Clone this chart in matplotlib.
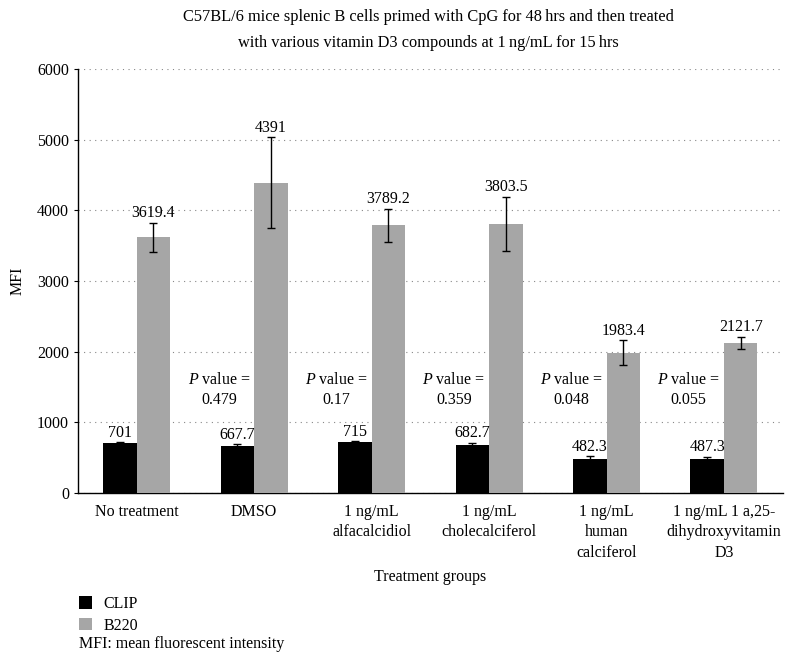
import numpy as np
import matplotlib.pyplot as plt
from matplotlib.patches import Patch

plt.rcParams["font.family"] = ["Liberation Serif", "DejaVu Serif"]
plt.rcParams["mathtext.fontset"] = "custom"
plt.rcParams["mathtext.rm"] = "Liberation Serif"
plt.rcParams["mathtext.it"] = "Liberation Serif:italic"

groups = ["No treatment", "DMSO", "1 ng/mL\nalfacalcidiol", "1 ng/mL\ncholecalciferol",
          "1 ng/mL\nhuman\ncalciferol", "1 ng/mL 1 a,25-\ndihydroxyvitamin\nD3"]
clip_vals = [701, 667.7, 715, 682.7, 482.3, 487.3]
clip_err = [15, 25, 20, 30, 35, 25]
b220_vals = [3619.4, 4391, 3789.2, 3803.5, 1983.4, 2121.7]
b220_err = [205, 640, 235, 385, 175, 90]
clip_labels = ["701", "667.7", "715", "682.7", "482.3", "487.3"]
b220_labels = ["3619.4", "4391", "3789.2", "3803.5", "1983.4", "2121.7"]
p_values = ["0.479", "0.17", "0.359", "0.048", "0.055"]

fig = plt.figure(figsize=(7.93, 6.63), dpi=100)
ax = fig.add_axes([0.0984, 0.2564, 0.8886, 0.6396])

x = np.arange(len(groups))
w = 0.285
black = "#000000"
gray = "#a6a6a6"

ax.bar(x - w / 2, clip_vals, w, color=black, yerr=clip_err, capsize=3,
       error_kw=dict(elinewidth=1, capthick=1, ecolor="black"), zorder=3)
ax.bar(x + w / 2, b220_vals, w, color=gray, yerr=b220_err, capsize=3,
       error_kw=dict(elinewidth=1, capthick=1, ecolor="black"), zorder=3)

for i in range(len(groups)):
    ax.text(x[i] - w / 2, clip_vals[i] + clip_err[i] + 20, clip_labels[i],
            ha="center", va="bottom", fontsize=11.5)
    ax.text(x[i] + w / 2, b220_vals[i] + b220_err[i] + 25, b220_labels[i],
            ha="center", va="bottom", fontsize=11.5)

for i, p in enumerate(p_values):
    ax.text(x[i + 1] - 0.3, 1460, "$P$ value =\n" + p, ha="center", va="center",
            fontsize=11.5, linespacing=1.3)

ax.set_xlim(-0.5, len(groups) - 0.5)
ax.set_ylim(0, 6000)
ax.set_yticks(range(0, 6001, 1000))
ax.set_xticks(x)
ax.set_xticklabels(groups, fontsize=11.5, linespacing=1.35, va="top")
ax.tick_params(axis="x", length=0, pad=8)
ax.tick_params(axis="y", length=3, labelsize=11.5, direction="out")
ax.yaxis.grid(True, linestyle=(0, (1, 4)), color="#888888", linewidth=0.8, zorder=0)
ax.set_axisbelow(True)
for s in ["top", "right"]:
    ax.spines[s].set_visible(False)
ax.spines["left"].set_linewidth(1)
ax.spines["bottom"].set_linewidth(1)

ax.set_ylabel("MFI", fontsize=11.5, labelpad=8)
fig.text(0.542, 0.129, "Treatment groups", ha="center", va="center", fontsize=11.5)

fig.text(0.54, 0.974, "C57BL/6 mice splenic B cells primed with CpG for 48\u2009hrs and then treated",
         ha="center", va="center", fontsize=11.8)
fig.text(0.54, 0.935, "with various vitamin D3 compounds at 1\u2009ng/mL for 15\u2009hrs",
         ha="center", va="center", fontsize=11.8)

handles = [Patch(facecolor=black, label="CLIP"), Patch(facecolor=gray, label="B220")]
fig.legend(handles=handles, loc="upper left", bbox_to_anchor=(0.1, 0.101), frameon=False,
           fontsize=11.5, handlelength=0.8, handleheight=0.8, handletextpad=0.7,
           labelspacing=0.35, borderaxespad=0, borderpad=0)
fig.text(0.1, 0.029, "MFI: mean fluorescent intensity", ha="left", va="center", fontsize=11.5)

fig.savefig("out.png", dpi=100)
